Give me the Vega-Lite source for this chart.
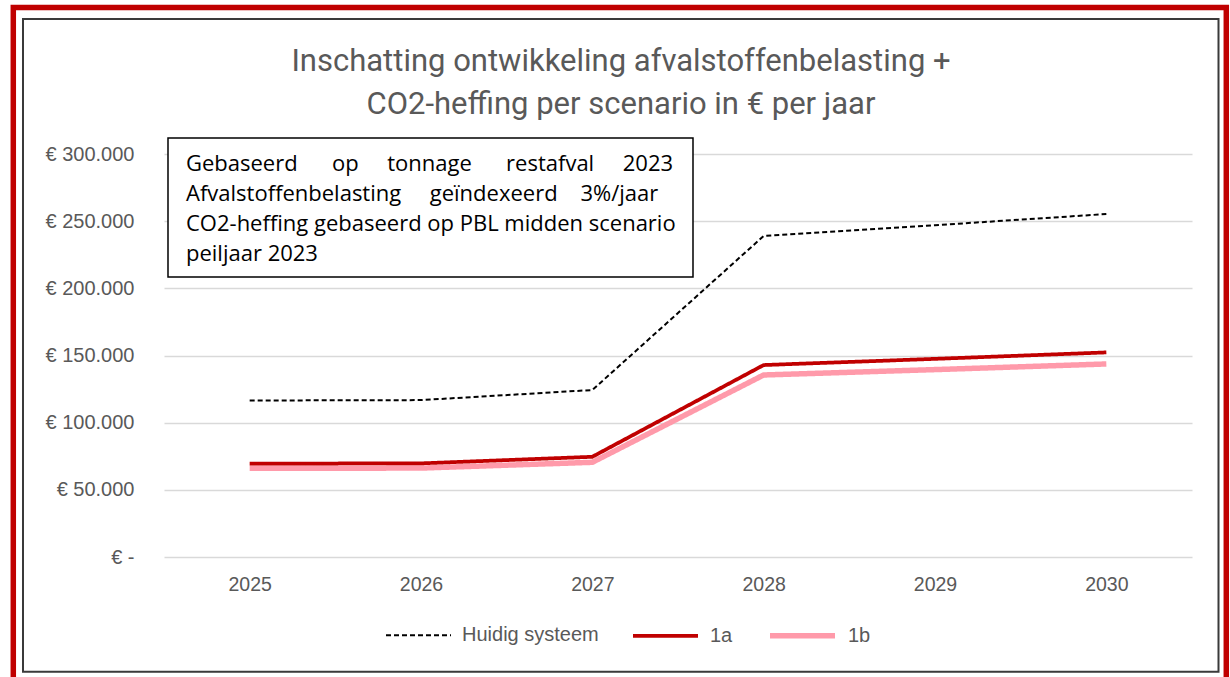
{
  "$schema": "https://vega.github.io/schema/vega-lite/v6.json",
  "width": 1028,
  "height": 403,
  "autosize": "none",
  "padding": {"left": 164, "top": 154, "right": 38, "bottom": 120},
  "background": "white",
  "title": {
    "text": ["Inschatting ontwikkeling afvalstoffenbelasting +", "CO2-heffing per scenario in € per jaar"],
    "font": "Roboto",
    "fontSize": 31,
    "fontWeight": "normal",
    "color": "#595959",
    "anchor": "middle",
    "dx": -57,
    "offset": -116,
    "lineHeight": 43
  },
  "datasets": {
    "kosten": [
      {"scenario": "1b", "jaar": "2025", "bedrag": 66000},
      {"scenario": "1b", "jaar": "2026", "bedrag": 66200},
      {"scenario": "1b", "jaar": "2027", "bedrag": 70500},
      {"scenario": "1b", "jaar": "2028", "bedrag": 135500},
      {"scenario": "1b", "jaar": "2029", "bedrag": 139500},
      {"scenario": "1b", "jaar": "2030", "bedrag": 143700},
      {"scenario": "1a", "jaar": "2025", "bedrag": 69500},
      {"scenario": "1a", "jaar": "2026", "bedrag": 69700},
      {"scenario": "1a", "jaar": "2027", "bedrag": 74600},
      {"scenario": "1a", "jaar": "2028", "bedrag": 142900},
      {"scenario": "1a", "jaar": "2029", "bedrag": 147500},
      {"scenario": "1a", "jaar": "2030", "bedrag": 152300},
      {"scenario": "Huidig systeem", "jaar": "2025", "bedrag": 116500},
      {"scenario": "Huidig systeem", "jaar": "2026", "bedrag": 116800},
      {"scenario": "Huidig systeem", "jaar": "2027", "bedrag": 124300},
      {"scenario": "Huidig systeem", "jaar": "2028", "bedrag": 239000},
      {"scenario": "Huidig systeem", "jaar": "2029", "bedrag": 247000},
      {"scenario": "Huidig systeem", "jaar": "2030", "bedrag": 255300}
    ]
  },
  "layer": [
    {
      "data": {"values": [{}]},
      "mark": {"type": "rect", "fill": null, "stroke": "#C00000", "strokeWidth": 5.5, "clip": false},
      "encoding": {
        "x": {"datum": -0.1466, "type": "quantitative", "scale": {"domain": [0, 1], "nice": false, "zero": false}, "axis": null},
        "x2": {"datum": 1.03336},
        "y": {
          "datum": 409057, "type": "quantitative",
          "scale": {"domain": [0, 300000], "nice": false},
          "axis": {
            "title": null,
            "values": [0, 50000, 100000, 150000, 200000, 250000, 300000],
            "labelExpr": "datum.value == 0 ? '€ -' : '€ ' + replace(format(datum.value, ','), ',', '.')",
            "labelFont": "Liberation Sans", "labelFontSize": 20, "labelColor": "#595959",
            "labelPadding": 30, "ticks": false, "domain": false,
            "grid": true, "gridColor": "#d9d9d9", "gridWidth": 1.3
          }
        },
        "y2": {"datum": -106452}
      }
    },
    {
      "data": {"values": [{}]},
      "mark": {"type": "rect", "fill": null, "stroke": "#3a3a3a", "strokeWidth": 2, "clip": false},
      "encoding": {
        "x": {"datum": -0.13716, "type": "quantitative", "scale": {"domain": [0, 1], "nice": false, "zero": false}, "axis": null},
        "x2": {"datum": 1.02578},
        "y": {"datum": 400496, "type": "quantitative", "scale": {"domain": [0, 300000], "nice": false}},
        "y2": {"datum": -85385}
      }
    },
    {
      "data": {"name": "kosten"},
      "mark": {"type": "line", "strokeJoin": "round"},
      "encoding": {
        "x": {
          "field": "jaar", "type": "ordinal",
          "scale": {"type": "point", "padding": 0.5},
          "axis": {"title": null, "labelFont": "Liberation Sans", "labelFontSize": 19.5, "labelColor": "#595959", "labelPadding": 18, "ticks": false, "domain": false, "labelAngle": 0, "grid": false}
        },
        "y": {"field": "bedrag", "type": "quantitative", "scale": {"domain": [0, 300000], "nice": false}},
        "color": {
          "field": "scenario", "type": "nominal",
          "scale": {"domain": ["Huidig systeem", "1a", "1b"], "range": ["#000000", "#C00000", "#FF9AAA"]},
          "legend": {"orient": "none", "legendX": 221, "legendY": 446, "direction": "horizontal", "title": null}
        },
        "strokeDash": {
          "field": "scenario", "type": "nominal",
          "scale": {"domain": ["Huidig systeem", "1a", "1b"], "range": [[5, 3], [1, 0], [1, 0]]},
          "legend": {"orient": "none", "legendX": 221, "legendY": 446, "direction": "horizontal", "title": null}
        },
        "strokeWidth": {
          "field": "scenario", "type": "nominal",
          "scale": {"domain": ["Huidig systeem", "1a", "1b"], "range": [2, 5.5, 6]},
          "legend": {"orient": "none", "legendX": 221, "legendY": 446, "direction": "horizontal", "title": null}
        }
      }
    },
    {
      "data": {"values": [{}]},
      "mark": {"type": "rect", "fill": "white", "stroke": "#000000", "strokeWidth": 1.5, "clip": false},
      "encoding": {
        "x": {"datum": 0.00389, "type": "quantitative", "scale": {"domain": [0, 1], "nice": false, "zero": false}, "axis": null},
        "x2": {"datum": 0.51459},
        "y": {"datum": 311911, "type": "quantitative", "scale": {"domain": [0, 300000], "nice": false}},
        "y2": {"datum": 208437}
      }
    },
    {
      "data": {"values": [{"tekst": "Gebaseerd\u00a0\u00a0\u00a0\u00a0\u00a0 op\u00a0\u00a0\u00a0\u00a0 tonnage\u00a0\u00a0\u00a0\u00a0\u00a0 restafval\u00a0\u00a0\u00a0\u00a0 2023\nAfvalstoffenbelasting\u00a0\u00a0\u00a0\u00a0 geïndexeerd\u00a0\u00a0\u00a0 3%/jaar\nCO2-heffing gebaseerd op PBL midden scenario\npeiljaar 2023"}]},
      "mark": {"type": "text", "align": "left", "baseline": "top", "lineBreak": "\n", "lineHeight": 30, "font": "Open Sans", "fontSize": 22, "color": "#000000", "clip": false},
      "encoding": {
        "x": {"datum": 0.0214, "type": "quantitative", "scale": {"domain": [0, 1], "nice": false, "zero": false}, "axis": null},
        "y": {"datum": 300200, "type": "quantitative", "scale": {"domain": [0, 300000], "nice": false}},
        "text": {"field": "tekst"}
      }
    }
  ],
  "resolve": {"scale": {"x": "independent"}},
  "config": {
    "view": {"stroke": null},
    "font": "Liberation Sans",
    "legend": {
      "symbolType": "stroke",
      "symbolSize": 4225,
      "labelFont": "Liberation Sans",
      "labelFontSize": 20,
      "labelColor": "#595959",
      "labelOffset": 10,
      "columnPadding": 26
    }
  }
}
